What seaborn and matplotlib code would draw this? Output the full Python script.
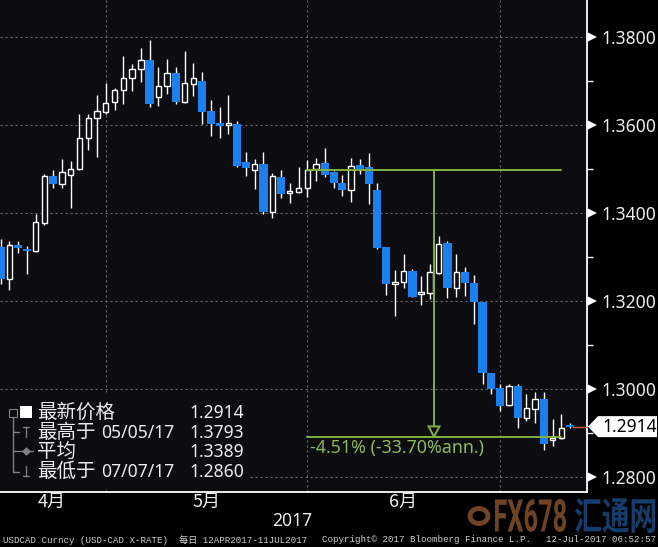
import numpy as np
import pandas as pd
import matplotlib
matplotlib.use("Agg")
import matplotlib.pyplot as plt
import seaborn as sns
from matplotlib.patches import Rectangle, Polygon, Circle, PathPatch
from matplotlib.lines import Line2D
from matplotlib.textpath import TextPath
from matplotlib.font_manager import FontProperties
from matplotlib.transforms import Affine2D, blended_transform_factory

# ---------------- data ----------------
dates = pd.bdate_range("2017-04-12", "2017-07-12")
opens = [1.3323, 1.3250, 1.3327, 1.3318, 1.3314, 1.3377, 1.3484, 1.3466, 1.3486, 1.3500,
         1.3570, 1.3616, 1.3630, 1.3652, 1.3680, 1.3707, 1.3727, 1.3748, 1.3664, 1.3689,
         1.3718, 1.3652, 1.3693, 1.3700, 1.3632, 1.3605, 1.3600, 1.3602, 1.3516, 1.3498,
         1.3511, 1.3402, 1.3482, 1.3445, 1.3448, 1.3457, 1.3500, 1.3514, 1.3493, 1.3468,
         1.3452, 1.3509, 1.3505, 1.3452, 1.3323, 1.3239, 1.3243, 1.3268, 1.3216, 1.3218,
         1.3264, 1.3332, 1.3230, 1.3266, 1.3241, 1.3198, 1.3036, 1.3002, 1.2964, 1.3007,
         1.2934, 1.2955, 1.2977, 1.2884, 1.2889, 1.2916]
highs = [1.3340, 1.3336, 1.3336, 1.3325, 1.3398, 1.3489, 1.3498, 1.3523, 1.3518, 1.3625,
         1.3625, 1.3668, 1.3695, 1.3684, 1.3757, 1.3739, 1.3775, 1.3793, 1.3732, 1.3750,
         1.3732, 1.3768, 1.3741, 1.3720, 1.3657, 1.3641, 1.3668, 1.3609, 1.3539, 1.3523,
         1.3539, 1.3491, 1.3498, 1.3468, 1.3505, 1.3520, 1.3525, 1.3548, 1.3495, 1.3486,
         1.3525, 1.3523, 1.3536, 1.3468, 1.3323, 1.3270, 1.3307, 1.3273, 1.3257, 1.3284,
         1.3348, 1.3336, 1.3307, 1.3277, 1.3259, 1.3198, 1.3036, 1.3011, 1.3011, 1.3011,
         1.2989, 1.2993, 1.2993, 1.2932, 1.2943, 1.2923]
lows = [1.3238, 1.3225, 1.3309, 1.3261, 1.3311, 1.3373, 1.3457, 1.3457, 1.3411, 1.3498,
        1.3543, 1.3527, 1.3625, 1.3634, 1.3648, 1.3677, 1.3698, 1.3641, 1.3643, 1.3670,
        1.3648, 1.3650, 1.3666, 1.3602, 1.3575, 1.3570, 1.3580, 1.3505, 1.3484, 1.3455,
        1.3398, 1.3389, 1.3434, 1.3423, 1.3445, 1.3436, 1.3473, 1.3482, 1.3457, 1.3439,
        1.3425, 1.3489, 1.3420, 1.3318, 1.3214, 1.3166, 1.3230, 1.3209, 1.3191, 1.3205,
        1.3262, 1.3207, 1.3209, 1.3211, 1.3148, 1.3011, 1.2989, 1.2950, 1.2962, 1.2911,
        1.2927, 1.2923, 1.2860, 1.2870, 1.2886, 1.2912]
closes = [1.3250, 1.3327, 1.3320, 1.3314, 1.3380, 1.3484, 1.3466, 1.3493, 1.3500, 1.3570,
          1.3616, 1.3632, 1.3650, 1.3680, 1.3707, 1.3727, 1.3748, 1.3648, 1.3689, 1.3718,
          1.3652, 1.3695, 1.3707, 1.3630, 1.3602, 1.3598, 1.3602, 1.3507, 1.3502, 1.3511,
          1.3402, 1.3484, 1.3443, 1.3450, 1.3457, 1.3498, 1.3511, 1.3486, 1.3468, 1.3452,
          1.3507, 1.3500, 1.3466, 1.3320, 1.3239, 1.3243, 1.3268, 1.3209, 1.3220, 1.3266,
          1.3330, 1.3230, 1.3266, 1.3241, 1.3198, 1.3036, 1.3000, 1.2961, 1.3007, 1.2934,
          1.2957, 1.2977, 1.2875, 1.2889, 1.2911, 1.2914]

y_ticks = [1.28, 1.30, 1.32, 1.34, 1.36, 1.38]
y_minor = [1.29, 1.31, 1.33, 1.35, 1.37]
month_labels = ["4月", "5月", "6月"]
year_label = "2017"
legend_names = ["最新价格", "最高于", "平均", "最低于"]
legend_dates = ["", "05/05/17", "", "07/07/17"]
legend_values = [1.2914, 1.3793, 1.3389, 1.2860]
measure_top = 1.3498
measure_bottom = 1.2891
measure_text = "-4.51% (-33.70%ann.)"
last_price = 1.2914
footer_left = "USDCAD Curncy (USD-CAD X-RATE)  每日 12APR2017-11JUL2017"
footer_mid = "Copyright\u00a9 2017 Bloomberg Finance L.P."
footer_right = "12-Jul-2017 06:52:57"

# ---------------- style ----------------
sns.set_theme(style="dark")
plt.rcParams["font.family"] = ["Noto Sans", "Noto Sans CJK SC", "DejaVu Sans"]

W, H = 658, 547
BG = "#0c0c11"
BLUE = "#1a80f0"
GREEN = "#7fb23e"
GREEN_TXT = "#8fb85a"
TXT = "#ececec"
GRAY = "#808080"


def fxy(x, y):
    return (x / W, 1 - y / H)


fig = plt.figure(figsize=(W / 100, H / 100), dpi=100)
fig.patch.set_facecolor("black")
ax = fig.add_axes([0, 1 - 492 / H, 587 / W, 492 / H])
ax.set_facecolor(BG)

x = np.arange(len(dates))
o = np.array(opens)
c = np.array(closes)
hi = np.array(highs)
lo = np.array(lows)
up = c >= o
bottom = np.minimum(o, c)
height = np.maximum(np.abs(c - o), 0.00035)

ax.vlines(x, lo, hi, color="white", lw=1.0, zorder=3)
ax.bar(x[up], height[up], bottom=bottom[up], width=0.62, facecolor=BG,
       edgecolor="white", linewidth=1.0, zorder=4)
ax.bar(x[~up], height[~up], bottom=bottom[~up], width=0.93, facecolor=BLUE,
       edgecolor="none", linewidth=0, zorder=4)

ax.set_xlim(-0.068, 66.92)
ax.set_ylim(1.38 - (492 - 36.8) / 4400, 1.38 + 36.8 / 4400)

month_end = [i for i in range(len(dates) - 1) if dates[i].month != dates[i + 1].month]
ax.set_xticks(month_end)
ax.set_xticklabels([])
ax.set_yticks(y_ticks)
ax.set_yticks(y_minor, minor=True)
ax.set_yticklabels([f"{v:.4f}" for v in y_ticks])
ax.yaxis.tick_right()
ax.tick_params(axis="y", which="major", length=0, pad=10.5, labelcolor=TXT,
               labelsize=12.6)
ax.tick_params(axis="y", which="minor", length=4, width=1, color="white", direction="out")
ax.tick_params(axis="x", which="major", length=5, width=1, color="white", direction="out")
ax.grid(True, which="major", color="#666666", linestyle=(0, (2, 2.5)), linewidth=0.8)
ax.set_axisbelow(True)
for s in ["top", "left"]:
    ax.spines[s].set_visible(False)
for s in ["right", "bottom"]:
    ax.spines[s].set_visible(True)
    ax.spines[s].set_color("white")
    ax.spines[s].set_linewidth(1.3)

# triangles at major ticks
tri_tr = blended_transform_factory(ax.transAxes, ax.transData)
ax.plot([1.0088] * len(y_ticks), y_ticks, linestyle="none", marker=">", markersize=7.5,
        color="white", markeredgewidth=0, transform=tri_tr, clip_on=False, zorder=6)

# month labels
lab_tr = blended_transform_factory(ax.transData, fig.transFigure)
for lab, xm in zip(month_labels, [5.85, 23.45, 45.95]):
    ax.text(xm, 1 - 502 / H, lab, transform=lab_tr, ha="center", va="center",
            color=TXT, fontsize=13, family=["Noto Sans CJK SC"], clip_on=False)
fig.text(*fxy(292, 521), year_label, ha="center", va="center", color=TXT, fontsize=12.6)

# measurement annotation
x_a, x_b, x_v = 35.0, 64.0, 49.46
ax.plot([x_a, x_b], [measure_top, measure_top], color=GREEN, lw=1.4, zorder=5)
ax.plot([x_a, x_b], [measure_bottom, measure_bottom], color=GREEN, lw=1.4, zorder=5)
ax.plot([x_v, x_v], [measure_top, measure_bottom + 0.0004], color=GREEN, lw=1.4, zorder=5)
ax.add_patch(Polygon([[x_v - 0.62, measure_bottom + 0.00235], [x_v + 0.62, measure_bottom + 0.00235],
                      [x_v, measure_bottom]], closed=True, facecolor=BG,
                     edgecolor=GREEN, lw=1.4, zorder=6))
ax.text(35.3, measure_bottom - 0.00245, measure_text, color=GREEN_TXT, fontsize=12.8,
        ha="left", va="center", zorder=6)

# last price line and tag
ax.plot([65.35, 66.92], [last_price, last_price], color="#c8603c", lw=1.0, zorder=5,
        clip_on=False)
yl = 36.8 + (1.38 - last_price) * 4400
tag = Polygon([fxy(588, yl), fxy(598, yl - 10.5), fxy(657, yl - 10.5),
               fxy(657, yl + 10.5), fxy(598, yl + 10.5)], closed=True,
              transform=fig.transFigure, facecolor="white", edgecolor="none", zorder=5)
fig.add_artist(tag)
fig.text(*fxy(602, yl), f"{last_price:.4f}", color="black", fontsize=12.6,
         ha="left", va="center", zorder=6)

# legend box
fig.add_artist(Rectangle(fxy(0, 490), 250 / W, 96 / H, transform=fig.transFigure,
                         facecolor=BG, edgecolor="none", zorder=2))
rows_y = [412, 432, 451, 471]
for name, dt, val, yy in zip(legend_names, legend_dates, legend_values, rows_y):
    fig.text(*fxy(37, yy), name, color=TXT, fontsize=14, family=["Noto Sans CJK SC"],
             ha="left", va="center", zorder=4)
    if dt:
        fig.text(*fxy(101, yy + 1), dt, color=TXT, fontsize=12.6, ha="left", va="center",
                 zorder=4)
    fig.text(*fxy(244, yy + 1), f"{val:.4f}", color=TXT, fontsize=12.6, ha="right",
             va="center", zorder=4)


def fline(xs, ys, color=GRAY, lw=1.0):
    fig.add_artist(Line2D([v / W for v in xs], [1 - v / H for v in ys],
                          transform=fig.transFigure, color=color, lw=lw, zorder=4))


fline([13, 13], [417, 472])
for yy in [432, 451, 472]:
    fline([13, 19], [yy, yy])
fig.add_artist(Rectangle(fxy(9, 417), 8 / W, 8 / H, transform=fig.transFigure,
                         facecolor=BG, edgecolor=GRAY, lw=0.8, zorder=5))
fline([10.5, 15.5], [413, 413], lw=0.8)
fig.add_artist(Rectangle(fxy(20, 418), 12 / W, 12 / H, transform=fig.transFigure,
                         facecolor="white", edgecolor="none", zorder=5))
fline([23, 29], [427, 427]); fline([26, 26], [427, 437])
fline([20, 33], [451, 451])
fig.add_artist(Line2D([26 / W], [1 - 451 / H], transform=fig.transFigure, marker="D",
                      markersize=3.5, color=GRAY, zorder=5))
fline([23, 29], [476, 476]); fline([26, 26], [466, 476])

# watermark
def path_text(s, family, weight, x0, x1, ytop, ybot, color):
    tp = TextPath((0, 0), s, size=40, prop=FontProperties(family=family, weight=weight))
    bb = tp.get_extents()
    tr = (Affine2D().translate(-bb.x0, -bb.y0)
          .scale((x1 - x0) / bb.width, (ybot - ytop) / bb.height)
          .translate(x0, H - ybot))
    fig.add_artist(PathPatch(tp, transform=tr, facecolor=color, edgecolor="none", zorder=1))


WM_O = "#6f4424"
WM_B = "#163c6c"
path_text("FX678", "Roboto", "bold", 495, 566, 499, 532, WM_O)
path_text("汇通网", "Noto Sans CJK SC", "bold", 575, 655, 498, 533, WM_B)
fig.add_artist(Circle(fxy(479, 516), 9 / W, transform=fig.transFigure, facecolor="none",
                      edgecolor=WM_O, lw=3.5, zorder=1))

# footer
ff = ["Liberation Mono", "Noto Sans CJK SC"]
fig.text(*fxy(3, 540), footer_left, color="#cfcfcf", fontsize=6.6, family=ff,
         ha="left", va="center")
fig.text(*fxy(322, 540), footer_mid, color="#cfcfcf", fontsize=6.6, family=ff,
         ha="left", va="center")
fig.text(*fxy(656, 540), footer_right, color="#cfcfcf", fontsize=6.6, family=ff,
         ha="right", va="center")

fig.savefig("out.png", dpi=100, facecolor="black")
